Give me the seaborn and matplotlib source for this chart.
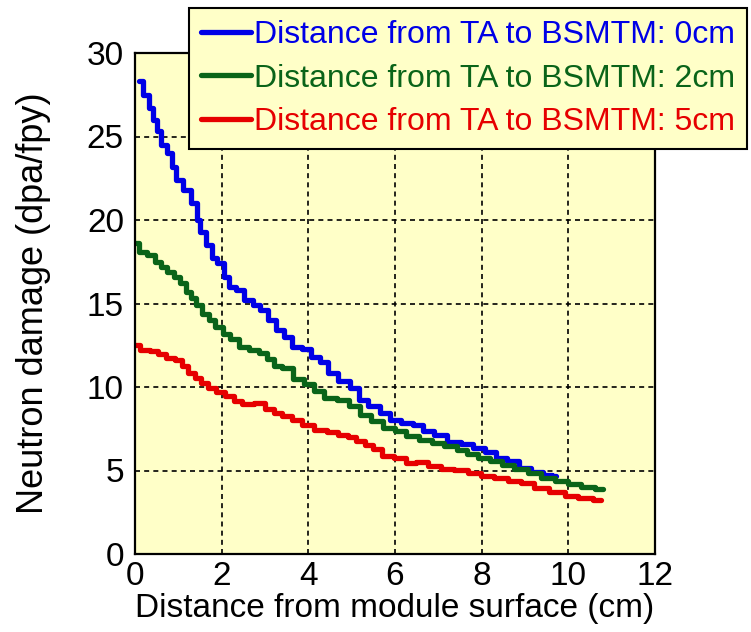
import matplotlib
matplotlib.use("Agg")
import matplotlib.pyplot as plt
import seaborn as sns
import pandas as pd

# distance from module surface (cm) / neutron damage (dpa/fpy)
x_0cm = [0.1, 0.27, 0.36, 0.46, 0.56, 0.66, 0.83, 0.89, 1.0, 1.2, 1.39, 1.47, 1.55, 1.74, 1.81, 1.97,
         2.12, 2.24, 2.43, 2.62, 2.81, 2.97, 3.16, 3.35, 3.51, 3.74, 3.97, 4.17, 4.36, 4.55, 4.82, 5.09,
         5.24, 5.51, 5.78, 6.01, 6.28, 6.55, 6.74, 7.05, 7.36, 7.67, 7.94, 8.21, 8.45, 8.72, 8.99, 9.29,
         9.53, 9.72]
y_0cm = [28.3, 27.5, 26.7, 26.0, 25.3, 24.5, 24.0, 23.2, 22.4, 21.8, 21.0, 20.0, 19.3, 18.5, 17.7, 17.4,
         16.6, 16.0, 15.8, 15.2, 14.9, 14.6, 14.0, 13.4, 13.0, 12.4, 12.25, 11.8, 11.5, 10.85, 10.35, 9.95,
         9.25, 8.85, 8.45, 8.05, 7.85, 7.7, 7.35, 7.12, 6.7, 6.6, 6.35, 6.1, 5.75, 5.55, 5.15, 4.9,
         4.75, 4.7]

x_2cm = [0.0, 0.19, 0.38, 0.54, 0.66, 0.81, 0.97, 1.12, 1.23, 1.35, 1.47, 1.62, 1.78, 1.93, 2.12, 2.28,
         2.51, 2.74, 2.97, 3.12, 3.28, 3.51, 3.8, 4.0, 4.24, 4.5, 4.82, 5.05, 5.32, 5.59, 5.86, 6.13,
         6.4, 6.71, 6.98, 7.29, 7.55, 7.75, 8.06, 8.33, 8.6, 8.91, 9.22, 9.53, 9.84, 10.14, 10.45, 10.8]
y_2cm = [18.6, 18.1, 17.9, 17.5, 17.2, 16.9, 16.6, 16.2, 15.7, 15.3, 14.9, 14.4, 14.0, 13.6, 13.2, 12.9,
         12.4, 12.2, 12.05, 11.65, 11.25, 11.15, 10.45, 10.15, 9.75, 9.35, 9.25, 8.85, 8.35, 7.95, 7.55, 7.35,
         7.05, 6.85, 6.65, 6.45, 6.25, 6.0, 5.75, 5.55, 5.35, 5.1, 4.85, 4.55, 4.35, 4.2, 4.0, 3.9]

x_5cm = [0.0, 0.23, 0.46, 0.62, 0.81, 1.04, 1.15, 1.3, 1.45, 1.61, 1.76, 1.96, 2.19, 2.38, 2.58, 2.89,
         3.12, 3.28, 3.51, 3.74, 3.97, 4.27, 4.57, 4.82, 5.01, 5.2, 5.4, 5.59, 5.82, 6.13, 6.36, 6.63,
         6.9, 7.21, 7.52, 7.83, 8.14, 8.45, 8.76, 9.06, 9.37, 9.76, 10.07, 10.38, 10.76]
y_5cm = [12.5, 12.2, 12.15, 11.95, 11.75, 11.6, 11.25, 10.85, 10.55, 10.25, 9.95, 9.7, 9.45, 9.15, 9.0, 9.05,
         8.7, 8.45, 8.25, 8.05, 7.75, 7.45, 7.3, 7.15, 7.0, 6.75, 6.5, 6.3, 5.85, 5.75, 5.45, 5.5,
         5.25, 5.1, 5.05, 4.85, 4.65, 4.55, 4.4, 4.25, 3.95, 3.7, 3.5, 3.35, 3.25]

labels = ["Distance from TA to BSMTM: 0cm",
          "Distance from TA to BSMTM: 2cm",
          "Distance from TA to BSMTM: 5cm"]
couleurs = ["#0000E6", "#0A6419", "#E60000"]
fond = "#FFFFC8"

df = pd.concat([
    pd.DataFrame({"x": x_0cm, "y": y_0cm, "cas": labels[0]}),
    pd.DataFrame({"x": x_2cm, "y": y_2cm, "cas": labels[1]}),
    pd.DataFrame({"x": x_5cm, "y": y_5cm, "cas": labels[2]}),
])

sns.set_theme(style="ticks")
plt.rcParams["font.family"] = ["Liberation Sans", "DejaVu Sans"]
taille = 24

fig = plt.figure(figsize=(7.51, 6.32), dpi=100)
ax = fig.add_axes([135/751, 1-554/632, 520/751, 501/632])
ax.set_facecolor(fond)

sns.lineplot(data=df, x="x", y="y", hue="cas", palette=dict(zip(labels, couleurs)),
             estimator=None, drawstyle="steps-mid", linewidth=3.8, legend=False, ax=ax)

ax.set_xlim(0, 12)
ax.set_ylim(0, 30)
ax.set_xticks(range(0, 13, 2))
ax.set_yticks(range(0, 31, 5))
ax.grid(True, color="black", linestyle=(0, (3, 2.5)), linewidth=1.2)
ax.set_axisbelow(True)
for s in ax.spines.values():
    s.set_color("black")
    s.set_linewidth(1.6)
ax.tick_params(axis="both", direction="in", length=0, labelsize=taille, colors="black")
ax.tick_params(axis="x", pad=5)
ax.tick_params(axis="y", pad=8)
ax.set_xlabel("Distance from module surface (cm)", fontsize=taille, color="black", labelpad=1)
ax.set_ylabel("Neutron damage (dpa/fpy)", fontsize=26, color="black", labelpad=26)

leg = fig.legend(ax.get_lines(), labels, loc="upper left", bbox_to_anchor=(189/751, 1-8/632),
                 fontsize=23, handlelength=1.55, handletextpad=0.1, borderpad=0.38,
                 labelspacing=0.42, borderaxespad=0, fancybox=False, framealpha=1,
                 facecolor=fond, edgecolor="black")
leg.get_frame().set_linewidth(1.5)
for t, c in zip(leg.get_texts(), couleurs):
    t.set_color(c)

fig.savefig("out.png", dpi=100)
